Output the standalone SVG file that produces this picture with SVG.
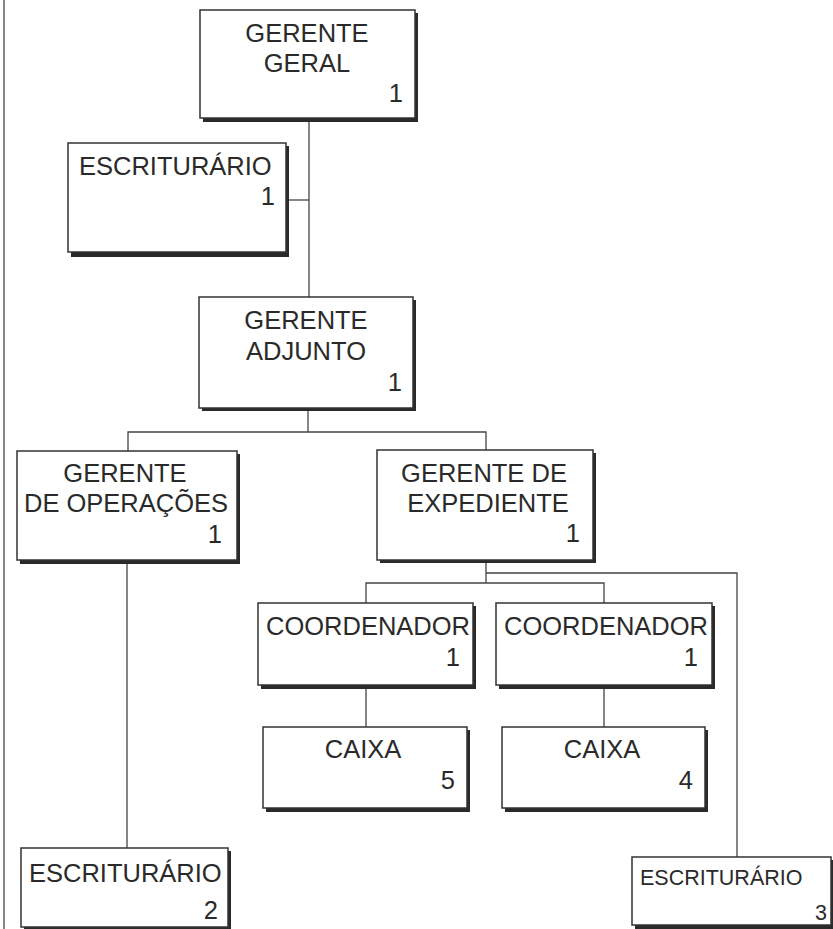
<svg xmlns="http://www.w3.org/2000/svg" width="833" height="929" viewBox="0 0 833 929">
<style>
.sh{fill:#2a2a2a}
.bx{fill:#fff;stroke:#333;stroke-width:1.5}
text{font-family:"Liberation Sans",Arial,sans-serif;font-size:25.5px;fill:#2a2a2a}
.c{text-anchor:middle}
.e{text-anchor:end}
.sm{font-size:21.5px}
.ln{fill:none;stroke:#444;stroke-width:1.3}
</style>
<rect width="833" height="929" fill="#fff"/>
<g id="connectors" class="ln">
<line x1="4" y1="0" x2="4" y2="929"/>
<line x1="309" y1="118" x2="309" y2="297"/>
<line x1="286" y1="200" x2="309" y2="200"/>
<line x1="308" y1="408" x2="308" y2="432"/>
<polyline points="128,451 128,432 486,432 486,450"/>
<line x1="127" y1="560" x2="127" y2="848"/>
<line x1="486" y1="560" x2="486" y2="583"/>
<polyline points="486,573 737,573 737,857"/>
<polyline points="366,603 366,583 604,583 604,603"/>
<line x1="366" y1="685" x2="366" y2="727"/>
<line x1="604" y1="685" x2="604" y2="727"/>
</g>
<g id="gerente-geral">
<rect class="sh" x="203" y="13" width="215" height="109"/>
<rect class="bx" x="200" y="10" width="215" height="108"/>
<text class="c" x="307" y="42">GERENTE</text>
<text class="c" x="307" y="72">GERAL</text>
<text class="e" x="403" y="102">1</text>
</g>
<g id="escriturario-1">
<rect class="sh" x="71" y="146" width="218" height="111"/>
<rect class="bx" x="68" y="143" width="218" height="109"/>
<text x="79" y="175">ESCRITURÁRIO</text>
<text class="e" x="275" y="205">1</text>
</g>
<g id="gerente-adjunto">
<rect class="sh" x="202" y="300" width="214" height="111"/>
<rect class="bx" x="199" y="297" width="214" height="111"/>
<text class="c" x="306" y="329">GERENTE</text>
<text class="c" x="306" y="360">ADJUNTO</text>
<text class="e" x="402" y="391">1</text>
</g>
<g id="gerente-operacoes">
<rect class="sh" x="20" y="454" width="220" height="110"/>
<rect class="bx" x="17" y="451" width="220" height="109"/>
<text class="c" x="125" y="482">GERENTE</text>
<text class="c" x="126" y="512">DE OPERAÇÕES</text>
<text class="e" x="222" y="543">1</text>
</g>
<g id="gerente-expediente">
<rect class="sh" x="380" y="453" width="216" height="110"/>
<rect class="bx" x="377" y="450" width="216" height="110"/>
<text class="c" x="484" y="482">GERENTE DE</text>
<text class="c" x="488" y="512">EXPEDIENTE</text>
<text class="e" x="580" y="542">1</text>
</g>
<g id="coordenador-1">
<rect class="sh" x="261" y="606" width="215" height="83"/>
<rect class="bx" x="258" y="603" width="215" height="82"/>
<text x="266" y="635">COORDENADOR</text>
<text class="e" x="460" y="666">1</text>
</g>
<g id="coordenador-2">
<rect class="sh" x="499" y="606" width="216" height="83"/>
<rect class="bx" x="496" y="603" width="216" height="82"/>
<text x="504" y="635">COORDENADOR</text>
<text class="e" x="698" y="666">1</text>
</g>
<g id="caixa-5">
<rect class="sh" x="266" y="730" width="204" height="82"/>
<rect class="bx" x="263" y="727" width="204" height="81"/>
<text class="c" x="363" y="758">CAIXA</text>
<text class="e" x="455" y="789">5</text>
</g>
<g id="caixa-4">
<rect class="sh" x="505" y="730" width="203" height="82"/>
<rect class="bx" x="502" y="727" width="203" height="81"/>
<text class="c" x="602" y="758">CAIXA</text>
<text class="e" x="693" y="789">4</text>
</g>
<g id="escriturario-2">
<rect class="sh" x="24" y="851" width="207" height="80"/>
<rect class="bx" x="21" y="848" width="207" height="79"/>
<text x="29" y="882">ESCRITURÁRIO</text>
<text class="e" x="218" y="919">2</text>
</g>
<g id="escriturario-3">
<rect class="sh" x="635" y="860" width="200" height="70"/>
<rect class="bx" x="632" y="857" width="199" height="68"/>
<text class="sm" x="640" y="885">ESCRITURÁRIO</text>
<text class="e sm" x="827" y="920">3</text>
</g>
</svg>
